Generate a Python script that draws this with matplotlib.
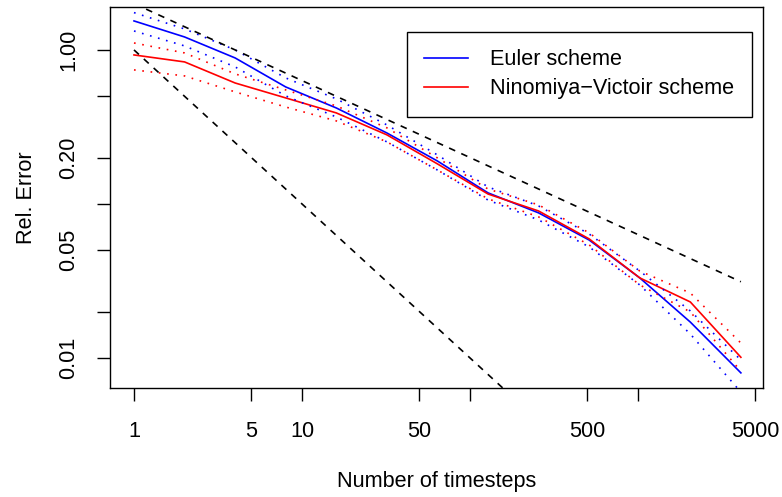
import matplotlib
matplotlib.use("Agg")
import matplotlib.pyplot as plt
from matplotlib.ticker import FixedLocator, FixedFormatter, NullLocator

plt.rcParams['font.family'] = ['Liberation Sans', 'DejaVu Sans']

#### data ####
timesteps = [1, 2, 4, 8, 16, 32, 64, 128, 256, 512, 1024, 2048, 4096]

euler_mean = [1.543, 1.214, 0.887, 0.575, 0.420, 0.289, 0.190, 0.118, 0.0875, 0.0583, 0.0331, 0.0171, 0.0080]
euler_upper = [1.747, 1.369, 1.0, 0.658, 0.481, 0.326, 0.208, 0.129, 0.0970, 0.0638, 0.0367, 0.0202, 0.0097]
euler_lower = [1.328, 1.062, 0.776, 0.503, 0.367, 0.253, 0.166, 0.106, 0.0787, 0.0526, 0.0298, 0.0143, 0.0060]

nv_mean = [0.928, 0.836, 0.610, 0.488, 0.390, 0.281, 0.182, 0.116, 0.090, 0.0593, 0.0331, 0.0231, 0.0101]
nv_upper = [1.11, 0.956, 0.699, 0.550, 0.433, 0.312, 0.199, 0.125, 0.0986, 0.0649, 0.0367, 0.0264, 0.0125]
nv_lower = [0.742, 0.678, 0.534, 0.426, 0.346, 0.253, 0.166, 0.108, 0.0824, 0.0542, 0.0298, 0.0199, 0.0082]

# reference slopes (end points only)
ref_n = [1, 4096]
ref_half = [2.0, 0.03125]       # order 1/2
ref_one = [1.0, 1 / 4096]       # order 1

xticks = [1, 5, 10, 50, 100, 500, 1000, 5000]
xticklabels = ['1', '5', '10', '50', '', '500', '', '5000']
yticks = [0.01, 0.02, 0.05, 0.1, 0.2, 0.5, 1.0]
yticklabels = ['0.01', '', '0.05', '', '0.20', '', '1.00']

fs = 15.6
fig = plt.figure(figsize=(7.82, 4.97), dpi=100)
ax = fig.add_axes([0.1407, 0.2193, 0.835, 0.7666])

lw = 1.2
dot = (0, (1, 4))
ax.plot(timesteps, euler_mean, color='blue', linewidth=lw, label='Euler scheme')
ax.plot(timesteps, nv_mean, color='red', linewidth=lw, label='Ninomiya\u2212Victoir scheme')
ax.plot(timesteps, euler_upper, color='blue', linewidth=lw, linestyle=dot)
ax.plot(timesteps, euler_lower, color='blue', linewidth=lw, linestyle=dot)
ax.plot(timesteps, nv_upper, color='red', linewidth=lw, linestyle=dot)
ax.plot(timesteps, nv_lower, color='red', linewidth=lw, linestyle=dot)
ax.plot(ref_n, ref_half, color='black', linewidth=lw, linestyle=(0, (4, 4)))
ax.plot(ref_n, ref_one, color='black', linewidth=lw, linestyle=(0, (4, 4)))

ax.set_xscale('log')
ax.set_yscale('log')
ax.set_xlim(0.720, 5546)
ax.set_ylim(0.00638, 1.90)

ax.xaxis.set_major_locator(FixedLocator(xticks))
ax.xaxis.set_major_formatter(FixedFormatter(xticklabels))
ax.xaxis.set_minor_locator(NullLocator())
ax.yaxis.set_major_locator(FixedLocator(yticks))
ax.yaxis.set_major_formatter(FixedFormatter(yticklabels))
ax.yaxis.set_minor_locator(NullLocator())

ax.tick_params(axis='x', direction='out', length=9.4, width=1, pad=14, labelsize=fs)
ax.tick_params(axis='y', direction='out', length=9.4, width=1, pad=13, labelsize=fs, labelrotation=90)
for lab in ax.get_yticklabels():
    lab.set_va('center')

for sp in ax.spines.values():
    sp.set_linewidth(1)

ax.set_xlabel('Number of timesteps', fontsize=fs, labelpad=21)
ax.set_ylabel('Rel. Error', fontsize=fs, labelpad=15)

leg = ax.legend(loc='upper right', bbox_to_anchor=(0.983, 0.934), borderaxespad=0,
                fontsize=fs, fancybox=False, edgecolor='black', framealpha=1,
                handlelength=2.0, handletextpad=1.05, borderpad=0.8, labelspacing=0.36)
leg.get_frame().set_linewidth(1)

fig.savefig('out.png', dpi=100)
